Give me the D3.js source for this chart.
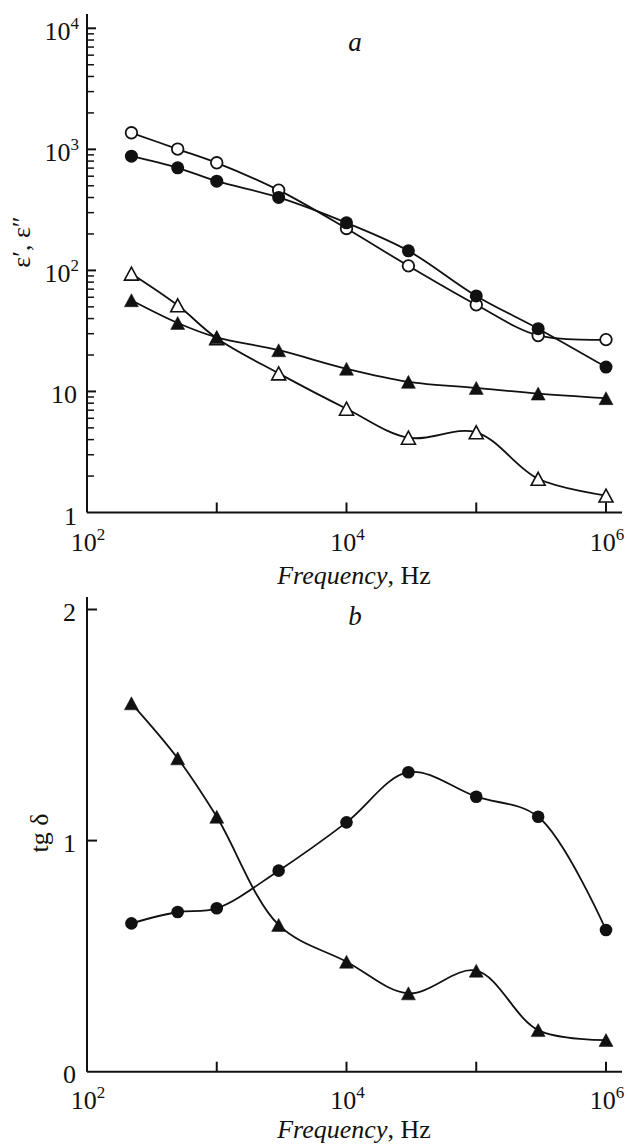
<!DOCTYPE html>
<html>
<head>
<meta charset="utf-8">
<script src="https://cdn.jsdelivr.net/npm/d3@7"></script>
<style>
  html, body { margin: 0; padding: 0; background: #fff; }
  svg { display: block; }
  text { font-family: "Liberation Serif", "Times New Roman", Times, serif; fill: #111; }
</style>
</head>
<body>
<script>
// ---------- data ----------
const freqs = [220, 500, 1000, 3000, 10000, 30000, 100000, 300000, 1000000];
const epsOpenCircle   = [1370, 1005, 774, 460, 222, 109, 52, 29, 26.8];
const epsFilledCircle = [879, 704, 546, 401, 247, 145, 61.5, 33, 15.9];
const epsOpenTri      = [94, 51.5, 27.5, 14.1, 7.2, 4.15, 4.6, 1.9, 1.38];
const epsFilledTri    = [56.7, 36.8, 28, 21.9, 15.4, 12, 10.7, 9.6, 8.8];
const tgCircle = [0.642, 0.691, 0.707, 0.870, 1.079, 1.296, 1.190, 1.103, 0.613];
const tgTri    = [1.594, 1.356, 1.103, 0.635, 0.476, 0.339, 0.437, 0.180, 0.137];

const xTickValues = [1e2, 1e3, 1e4, 1e5, 1e6];
const xTickLabels = [["10","2"], null, ["10","4"], null, ["10","6"]];
const yTopMajor = [1, 10, 100, 1000, 10000];
const yTopLabels = [["1",null], ["10",null], ["10","2"], ["10","3"], ["10","4"]];
const yBotTicks = [0, 1, 2];
const yBotLabels = ["0", "1", "2"];

// ---------- layout ----------
const W = 628, H = 1146;
const svg = d3.select("body").append("svg").attr("width", W).attr("height", H);

const x = d3.scaleLog().domain([1e2, 1e6]).range([87, 606]);
const yTop = d3.scaleLog().domain([1, 1e4]).range([512.5, 28.3]);
const yBot = d3.scaleLinear().domain([0, 2]).range([1071.7, 609.5]);

const AX = 2, LW = 1.8;
const FS = 26, SUP = 17;
const line = (ys, yScale) => d3.line()
  .x((d, i) => x(freqs[i]))
  .y(d => yScale(d))
  .curve(d3.curveCatmullRom.alpha(0.5))(ys);

function triPath(w, h) {
  return `M0,${-h/2}L${w/2},${h/2}L${-w/2},${h/2}Z`;
}

function drawXAxis(y0, labelBase, titleBase) {
  const g = svg.append("g");
  g.append("line").attr("x1", x(1e2)).attr("x2", 622).attr("y1", y0).attr("y2", y0)
    .attr("stroke", "#111").attr("stroke-width", AX);
  xTickValues.forEach((v, i) => {
    if (i > 0) g.append("line").attr("x1", x(v)).attr("x2", x(v)).attr("y1", y0).attr("y2", y0 - 10)
      .attr("stroke", "#111").attr("stroke-width", AX);
    const lab = xTickLabels[i];
    if (lab) {
      const t = g.append("text").attr("x", x(v) + 1).attr("y", labelBase).attr("text-anchor", "middle")
        .attr("font-size", FS);
      t.append("tspan").text(lab[0]);
      t.append("tspan").attr("dy", -11).attr("font-size", SUP).text(lab[1]);
    }
  });
  const t = g.append("text").attr("x", 354).attr("y", titleBase).attr("text-anchor", "middle").attr("font-size", FS);
  t.append("tspan").attr("font-style", "italic").text("Frequency");
  t.append("tspan").text(", Hz");
}

// ---------- top panel ----------
(function () {
  const g = svg.append("g");
  g.append("line").attr("x1", 87).attr("x2", 87).attr("y1", 14).attr("y2", 512.5)
    .attr("stroke", "#111").attr("stroke-width", AX);
  for (let dec = 0; dec < 4; dec++) {
    for (let m = 2; m <= 9; m++) {
      const v = m * Math.pow(10, dec);
      g.append("line").attr("x1", 87).attr("x2", 94).attr("y1", yTop(v)).attr("y2", yTop(v))
        .attr("stroke", "#111").attr("stroke-width", 1.5);
    }
  }
  yTopMajor.forEach((v, i) => {
    if (v > 1) g.append("line").attr("x1", 87).attr("x2", 96).attr("y1", yTop(v)).attr("y2", yTop(v))
      .attr("stroke", "#111").attr("stroke-width", AX);
    const lab = yTopLabels[i];
    const t = g.append("text").attr("x", lab[1] ? 79 : 77).attr("y", yTop(v) + 12).attr("text-anchor", "end")
      .attr("font-size", FS);
    t.append("tspan").text(lab[0]);
    if (lab[1]) t.append("tspan").attr("dy", -11).attr("font-size", SUP).text(lab[1]);
  });
  drawXAxis(512.5, 551, 584);

  svg.append("text").attr("transform", "translate(30,242) rotate(-90)").attr("text-anchor", "middle")
    .attr("font-size", FS).text("ε′, ε″");
  svg.append("text").attr("x", 355).attr("y", 51).attr("text-anchor", "middle")
    .attr("font-size", 27).attr("font-style", "italic").text("a");

  const series = [
    {ys: epsOpenTri, kind: "tri", fill: "#fff"},
    {ys: epsFilledTri, kind: "tri", fill: "#111"},
    {ys: epsOpenCircle, kind: "circ", fill: "#fff"},
    {ys: epsFilledCircle, kind: "circ", fill: "#111"}
  ];
  series.forEach(s => {
    g.append("path").attr("d", line(s.ys, yTop)).attr("fill", "none")
      .attr("stroke", "#111").attr("stroke-width", LW);
  });
  series.forEach(s => {
    s.ys.forEach((v, i) => {
      if (s.kind === "circ") {
        g.append("circle").attr("cx", x(freqs[i])).attr("cy", yTop(v)).attr("r", s.fill === "#fff" ? 5.8 : 6.5)
          .attr("fill", s.fill).attr("stroke", "#111").attr("stroke-width", s.fill === "#fff" ? 1.8 : 0);
      } else {
        g.append("path").attr("d", triPath(14, 13))
          .attr("transform", `translate(${x(freqs[i])},${yTop(v)})`)
          .attr("fill", s.fill).attr("stroke", "#111").attr("stroke-width", s.fill === "#fff" ? 1.6 : 0.5)
          .attr("stroke-linejoin", "miter");
      }
    });
  });
})();

// ---------- bottom panel ----------
(function () {
  const g = svg.append("g");
  g.append("line").attr("x1", 87).attr("x2", 87).attr("y1", 597).attr("y2", 1071.7)
    .attr("stroke", "#111").attr("stroke-width", AX);
  yBotTicks.forEach((v, i) => {
    if (v > 0) g.append("line").attr("x1", 87).attr("x2", 97).attr("y1", yBot(v)).attr("y2", yBot(v))
      .attr("stroke", "#111").attr("stroke-width", AX);
    g.append("text").attr("x", 76).attr("y", yBot(v) + 11).attr("text-anchor", "end")
      .attr("font-size", FS).text(yBotLabels[i]);
  });
  drawXAxis(1071.7, 1109, 1138);

  svg.append("text").attr("transform", "translate(48,833) rotate(-90)").attr("text-anchor", "middle")
    .attr("font-size", FS).text("tg δ");
  svg.append("text").attr("x", 355).attr("y", 625).attr("text-anchor", "middle")
    .attr("font-size", 27).attr("font-style", "italic").text("b");

  [tgCircle, tgTri].forEach(ys => {
    g.append("path").attr("d", line(ys, yBot)).attr("fill", "none")
      .attr("stroke", "#111").attr("stroke-width", LW);
  });
  tgCircle.forEach((v, i) => {
    g.append("circle").attr("cx", x(freqs[i])).attr("cy", yBot(v)).attr("r", 6.3).attr("fill", "#111");
  });
  tgTri.forEach((v, i) => {
    g.append("path").attr("d", triPath(14, 13))
      .attr("transform", `translate(${x(freqs[i])},${yBot(v)})`)
      .attr("fill", "#111").attr("stroke", "#111").attr("stroke-width", 0.5);
  });
})();
</script>
</body>
</html>
